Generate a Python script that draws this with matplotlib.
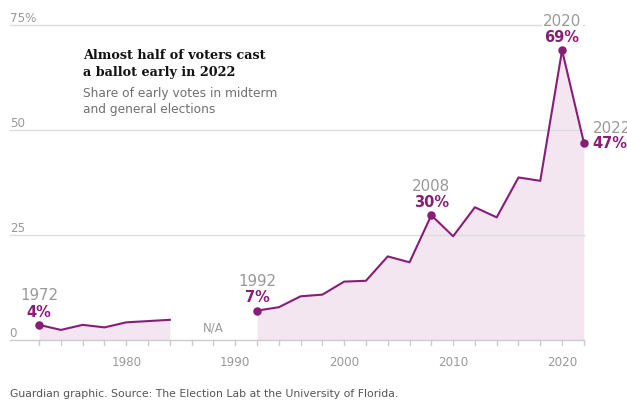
"""Early voting share chart."""

import matplotlib

matplotlib.use("Agg")
import matplotlib.pyplot as plt

years_a = [1972, 1974, 1976, 1978, 1980, 1982, 1984]
share_a = [3.6, 2.4, 3.6, 3.0, 4.2, 4.5, 4.8]
years_b = [1992, 1994, 1996, 1998, 2000, 2002, 2004, 2006, 2008, 2010,
           2012, 2014, 2016, 2018, 2020, 2022]
share_b = [7.0, 7.8, 10.4, 10.8, 13.9, 14.1, 19.9, 18.5, 29.7, 24.7,
           31.6, 29.2, 38.7, 37.9, 69.0, 47.0]

highlights = [(1972, 3.6, "1972", "4%"), (1992, 7.0, "1992", "7%"),
              (2008, 29.7, "2008", "30%"), (2020, 69.0, "2020", "69%")]
y_ticks = [0, 25, 50, 75]
y_tick_labels = ["0", "25", "50", "75%"]
decades = [1980, 1990, 2000, 2010, 2020]

LINE = "#881d76"
FILL = "#f3e6f0"
GRID = "#dcdcdc"
MUTED = "#999999"

fig = plt.figure(figsize=(6.27, 4.06), dpi=100)
ax = fig.add_axes([0, 0, 1, 1])
ax.set_xlim(1968.41, 2025.96)
ax.set_ylim(-15.48, 81.19)
ax.axis("off")

# gridlines and baseline
for v, lab in zip(y_ticks, y_tick_labels):
    ax.plot([1969.3, 2022], [v, v], color=GRID if v else "#cccccc", lw=1, zorder=2)
    ax.text(1969.3, v + 0.9, lab, color=MUTED, fontsize=8.6, va="baseline", ha="left")

for yr in range(1972, 2023, 2):
    ax.plot([yr, yr], [0, -1.3], color="#cccccc", lw=1)
for d in decades:
    ax.text(d, -5.2, str(d), color=MUTED, fontsize=8.6, ha="center", va="center")

for xs, ys in ((years_a, share_a), (years_b, share_b)):
    ax.fill_between(xs, ys, 0, color=FILL, lw=0, zorder=1)
    ax.plot(xs, ys, color=LINE, lw=1.5, zorder=3)

ax.text(1988, 3.0, "N/A", color=MUTED, fontsize=8.6, ha="center", va="center")

for x, y, yl, vl in highlights:
    ax.scatter([x], [y], s=26, color=LINE, zorder=4)
    ax.text(x, y + 1.5, vl, color=LINE, fontsize=10.5, fontweight="bold",
            ha="center", va="bottom")
    ax.text(x, y + 5.4, yl, color=MUTED, fontsize=10.8, ha="center", va="bottom",
            bbox=dict(fc="white", ec="none", pad=1))

ax.scatter([2022], [47.0], s=26, color=LINE, zorder=4)
ax.text(2022.8, 47.0, "47%", color=LINE, fontsize=10.5, fontweight="bold",
        ha="left", va="center")
ax.text(2022.8, 48.9, "2022", color=MUTED, fontsize=10.8, ha="left", va="bottom")

fig.text(83 / 627, 1 - 64 / 406, "Almost half of voters cast\na ballot early in 2022",
         family="DejaVu Serif", fontweight="bold", fontsize=9.2, color="#121212",
         va="center", ha="left", linespacing=1.45)
fig.text(83 / 627, 1 - 102 / 406, "Share of early votes in midterm\nand general elections",
         fontsize=8.8, color="#707070", va="center", ha="left", linespacing=1.3)
fig.text(10 / 627, 1 - 394 / 406,
         "Guardian graphic. Source: The Election Lab at the University of Florida.",
         fontsize=7.8, color="#555555", va="center", ha="left")

fig.savefig("out.png", dpi=100)
